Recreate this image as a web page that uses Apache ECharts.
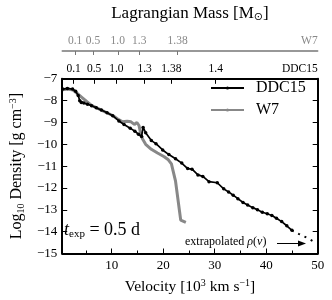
<!DOCTYPE html>
<html><head><meta charset="utf-8">
<script src="https://cdn.jsdelivr.net/npm/echarts@6/dist/echarts.min.js"></script>
<style>html,body{margin:0;padding:0;background:#fff}#c{width:332px;height:300px}</style>
</head><body><div id="c"></div>
<script>
// DDC15 model (velocity in 10^3 km/s, log10 density)
const ddc15Vel = [0.5,1.4,2.4,3.0,3.5,3.8,4.1,4.6,5.3,6.1,7.0,8.0,9.1,10.2,11.4,12.4,13.6,14.5,15.2,15.8,16.1,16.6,17.7,18.6,19.9,21.1,22.4,23.6,24.75,25.6,26.75,27.7,28.9,30.5,31.75,32.7,33.6,34.5,35.5,36.4,37.4,38.3,39.25,40.2,41.1,42.0,43.0,44.0,45.0];
const ddc15Rho = [-7.47,-7.44,-7.47,-7.57,-7.76,-8.0,-8.09,-8.11,-8.16,-8.23,-8.33,-8.43,-8.55,-8.69,-8.93,-9.09,-9.26,-9.40,-9.54,-9.64,-9.23,-9.47,-9.83,-9.97,-10.26,-10.47,-10.66,-10.86,-11.11,-11.14,-11.4,-11.47,-11.71,-11.76,-12.04,-12.18,-12.33,-12.49,-12.66,-12.78,-12.9,-13.0,-13.11,-13.18,-13.26,-13.39,-13.54,-13.73,-13.94];
const ddc15ExtVel = [45.0,46.4,48.0,49.6];
const ddc15ExtRho = [-13.94,-14.11,-14.29,-14.5];
// W7 model
const w7Vel = [0.5,1.5,2.5,3.2,4.2,5.2,6.1,8.0,10.2,11.1,12.1,13.0,13.75,14.4,14.9,15.3,15.6,16.0,16.6,17.7,18.9,20.2,21.0,21.6,21.9,22.4,22.8,23.2,23.4,24.4];
const w7Rho = [-7.5,-7.47,-7.52,-7.65,-7.85,-8.05,-8.22,-8.43,-8.68,-8.83,-8.97,-8.94,-8.97,-9.09,-9.0,-9.14,-9.47,-9.76,-10.0,-10.23,-10.4,-10.57,-10.71,-10.9,-11.19,-11.69,-12.4,-13.11,-13.47,-13.57];
// axis ticks
const velTicks = [10,20,30,40,50];
const velMinorTicks = [5,15,25,35,45];
const ddcMassVel = [2.6,6.6,10.9,16.4,21.6,30.2];
const ddcMassLabels = ['0.1','0.5','1.0','1.3','1.38','1.4'];
const w7MassVel = [2.9,6.37,11.18,15.35,22.8];
const w7MassLabels = ['0.1','0.5','1.0','1.3','1.38'];
const velMin = 0.4, velMax = 50, rhoMin = -15, rhoMax = -7;

const FONT = 'Liberation Serif';
const minus = v => String(v).replace('-', '\u2212');
function pick(vals, labels, endLabel) {
  return function (v) {
    for (let i = 0; i < vals.length; i++) if (Math.abs(vals[i] - v) < 1e-6) return labels[i];
    if (Math.abs(v - velMax) < 1e-6) return endLabel;
    return '';
  };
}
const zip = (a, b) => a.map((x, i) => [x, b[i]]);

const chart = echarts.init(document.getElementById('c'));
chart.setOption({
  animation: false,
  textStyle: { fontFamily: FONT },
  grid: { left: 52.3, right: 14.3, top: 69.3, bottom: 45.7 },
  xAxis: [
    { type: 'value', position: 'bottom', min: velMin, max: velMax,
      axisLine: { lineStyle: { color: '#000', width: 2 } },
      axisTick: { inside: true, length: 5, customValues: velTicks.slice(0, 4), lineStyle: { color: '#000', width: 1 } },
      axisLabel: { customValues: velTicks, color: '#000', fontSize: 13, margin: 6, fontFamily: FONT },
      splitLine: { show: false },
      name: '{n|Velocity [10}{sup|3}{n| km s}{sup|\u22121}{n|]}', nameLocation: 'middle', nameGap: 25,
      nameTextStyle: { rich: { n: { fontSize: 15.5, color: '#000', fontFamily: FONT, lineHeight: 17 },
        sup: { fontSize: 10, color: '#000', fontFamily: FONT, verticalAlign: 'top', lineHeight: 10 } } } },
    { type: 'value', position: 'top', min: velMin, max: velMax,
      axisLine: { lineStyle: { color: '#000', width: 2 } },
      axisTick: { inside: true, length: 5, customValues: ddcMassVel, lineStyle: { color: '#000', width: 1 } },
      axisLabel: { customValues: ddcMassVel.concat([velMax]), formatter: pick(ddcMassVel, ddcMassLabels, 'DDC15'),
        alignMaxLabel: 'right', color: '#000', fontSize: 11.5, margin: 4, fontFamily: FONT, interval: 0, hideOverlap: false },
      splitLine: { show: false } },
    { type: 'value', position: 'top', offset: 27.8, min: velMin, max: velMax,
      axisLine: { lineStyle: { color: '#777', width: 1.5 } },
      axisTick: { inside: true, length: 4, customValues: w7MassVel, lineStyle: { color: '#777', width: 1 } },
      axisLabel: { customValues: w7MassVel.concat([velMax]), formatter: pick(w7MassVel, w7MassLabels, 'W7'),
        alignMaxLabel: 'right', color: '#888', fontSize: 11.5, margin: 4, fontFamily: FONT, interval: 0, hideOverlap: false },
      splitLine: { show: false },
      name: '{n|Lagrangian Mass [M}{sub|\u2299}{n|]}', nameLocation: 'middle', nameGap: 28,
      nameTextStyle: { rich: { n: { fontSize: 17, color: '#000', fontFamily: FONT, lineHeight: 19 },
        sub: { fontSize: 11, color: '#000', fontFamily: 'DejaVu Sans', verticalAlign: 'bottom', lineHeight: 11 } } } },
    { type: 'value', position: 'bottom', min: velMin, max: velMax,
      axisLine: { show: false },
      axisTick: { inside: true, length: 3, customValues: velMinorTicks, lineStyle: { color: '#000', width: 1 } },
      axisLabel: { show: false }, splitLine: { show: false } }
  ],
  yAxis: [
    { type: 'value', min: rhoMin, max: rhoMax, interval: 1,
      axisLine: { show: true, lineStyle: { color: '#000', width: 2 } },
      axisTick: { show: true, inside: true, length: 5, lineStyle: { color: '#000' } },
      axisLabel: { formatter: minus, color: '#000', fontSize: 13, margin: 5, fontFamily: FONT },
      splitLine: { show: false },
      name: '{n|Log}{sub|10}{n| Density [g cm}{sup|\u22123}{n|]}', nameLocation: 'middle', nameGap: 36, nameRotate: 90,
      nameTextStyle: { rich: { n: { fontSize: 16, color: '#000', fontFamily: FONT, lineHeight: 18 },
        sub: { fontSize: 10, color: '#000', fontFamily: FONT, verticalAlign: 'bottom', lineHeight: 10 },
        sup: { fontSize: 10, color: '#000', fontFamily: FONT, verticalAlign: 'top', lineHeight: 10 } } } },
    { type: 'value', position: 'right', min: rhoMin, max: rhoMax, interval: 1,
      axisLine: { show: true, lineStyle: { color: '#000', width: 2 } },
      axisTick: { show: true, inside: true, length: 5, lineStyle: { color: '#000' } },
      axisLabel: { show: false }, splitLine: { show: false } }
  ],
  legend: {
    data: ['DDC15', 'W7'], orient: 'vertical', left: 210, top: 80, padding: 0,
    itemWidth: 33, itemHeight: 4, itemGap: 6,
    textStyle: { fontSize: 16, color: '#000', fontFamily: FONT, padding: [0, 0, 0, 7] }
  },
  series: [
    { name: 'W7', type: 'line', data: zip(w7Vel, w7Rho), showSymbol: false, symbol: 'none',
      lineStyle: { color: '#888', width: 3 }, itemStyle: { color: '#888' }, z: 2 },
    { name: 'DDC15', type: 'line', data: zip(ddc15Vel, ddc15Rho), symbol: 'circle', symbolSize: 3.5,
      lineStyle: { color: '#000', width: 1.7 }, itemStyle: { color: '#000' }, z: 3 },
    { name: 'DDC15 extrapolated', type: 'line', data: zip(ddc15ExtVel, ddc15ExtRho), symbol: 'none',
      lineStyle: { color: '#000', width: 2, type: [2, 5] }, z: 3 }
  ],
  graphic: [
    { type: 'text', left: 64, top: 221, style: { text: '{it|t}{sub|exp}{n| = 0.5 d}',
      rich: { it: { fontSize: 18, fontStyle: 'italic', fontFamily: FONT, lineHeight: 20 },
        n: { fontSize: 18, fontFamily: FONT, lineHeight: 20 },
        sub: { fontSize: 11, fontFamily: FONT, verticalAlign: 'bottom', lineHeight: 11 } } } },
    { type: 'text', left: 185, top: 236, style: { text: '{n|extrapolated }{it|\u03c1}{n|(}{it|v}{n|)}',
      rich: { n: { fontSize: 12, fontFamily: FONT }, it: { fontSize: 12, fontFamily: FONT, fontStyle: 'italic' } } } },
    { type: 'line', shape: { x1: 277, y1: 243.5, x2: 302, y2: 243.5 }, style: { stroke: '#000', lineWidth: 1 } },
    { type: 'polygon', shape: { points: [[306, 243.5], [298, 240.5], [298, 246.5]] }, style: { fill: '#000' } }
  ]
});
</script>
</body></html>
